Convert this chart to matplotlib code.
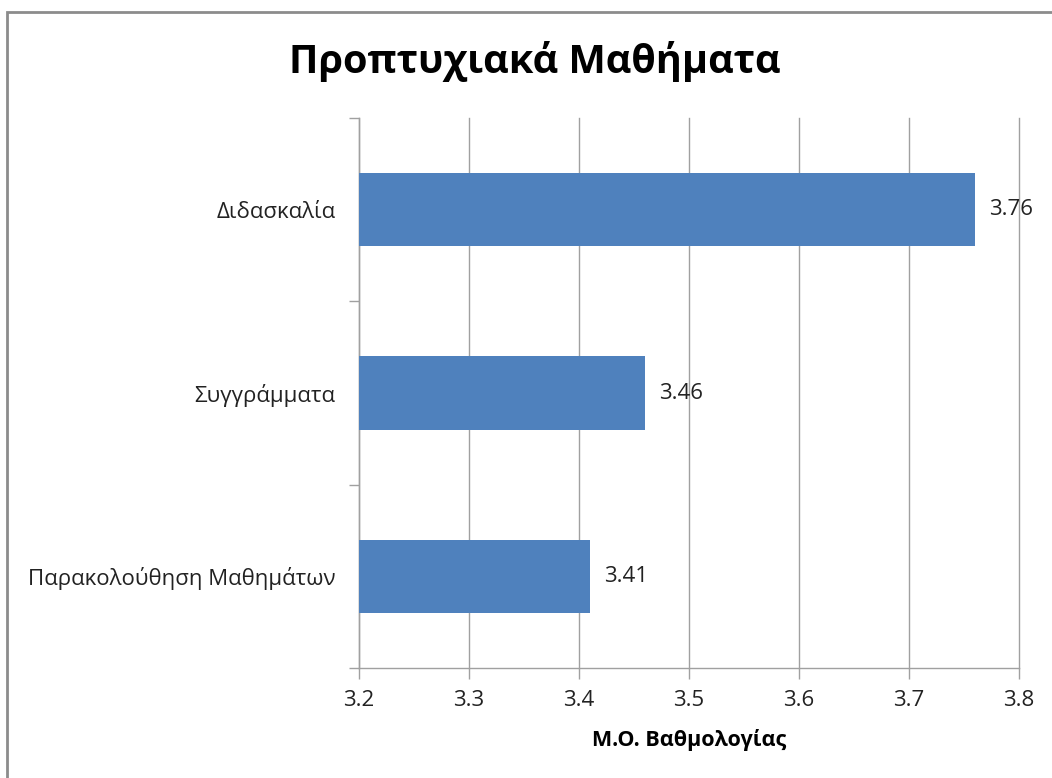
import matplotlib
matplotlib.use("Agg")
import matplotlib.pyplot as plt
from matplotlib.patches import Rectangle

categories = ["Παρακολούθηση Μαθημάτων", "Συγγράμματα", "Διδασκαλία"]
values = [3.41, 3.46, 3.76]
xticks = [3.2, 3.3, 3.4, 3.5, 3.6, 3.7, 3.8]
title = "Προπτυχιακά Μαθήματα"
xlabel = "Μ.Ο. Βαθμολογίας"

plt.rcParams['font.family'] = ['Open Sans', 'DejaVu Sans']

W, H = 1052, 778
fig = plt.figure(figsize=(W/100, H/100), dpi=100)
fig.patch.set_facecolor('white')

# outer chart border (right/bottom edges lie outside the image)
fig.add_artist(Rectangle((7/W, -0.1), 1.2, 1.1 - 12/H, transform=fig.transFigure,
                         fill=False, edgecolor='#8c8c8c', linewidth=2))

left, right, top, bottom = 359, 1019, 118, 668
ax = fig.add_axes([left/W, 1 - bottom/H, (right-left)/W, (bottom-top)/H])

ypos = list(range(len(categories)))
ax.barh(ypos, values, height=0.4, left=0, color='#4F81BD', zorder=3)
ax.set_xlim(3.2, 3.8)
ax.set_ylim(-0.5, len(categories) - 0.5)

fs = 16
ax.set_xticks(xticks)
ax.set_xticklabels([f"{t:.1f}" for t in xticks], fontsize=fs, color='#222222')
ax.set_yticks(ypos)
ax.set_yticklabels(categories, fontsize=fs, color='#222222')
ax.tick_params(axis='y', length=0, pad=17)
ax.tick_params(axis='x', length=8, width=1, color='#a0a0a0', pad=8, direction='out')
ax.set_yticks([-0.5 + i for i in range(len(categories) + 1)], minor=True)
ax.tick_params(axis='y', which='minor', length=7, width=1, color='#a0a0a0', direction='out')

ax.grid(axis='x', color='#a0a0a0', linewidth=1, zorder=0)
for gl in ax.get_xgridlines():
    gl.set_clip_on(False)
for s in ['top', 'right']:
    ax.spines[s].set_visible(False)
for s in ['left', 'bottom']:
    ax.spines[s].set_color('#a0a0a0')
    ax.spines[s].set_linewidth(1)

for y, v in zip(ypos, values):
    ax.annotate(f"{v:.2f}", xy=(v, y), xytext=(14, 0), textcoords='offset pixels',
                va='center', ha='left', fontsize=fs, color='#222222')

ax.set_xlabel(xlabel, fontsize=15.5, fontweight='bold', labelpad=13)
fig.text(535/W, 1 - 62/H, title, fontsize=28.5, fontweight='bold',
         ha='center', va='center')

fig.savefig("out.png", dpi=100)
